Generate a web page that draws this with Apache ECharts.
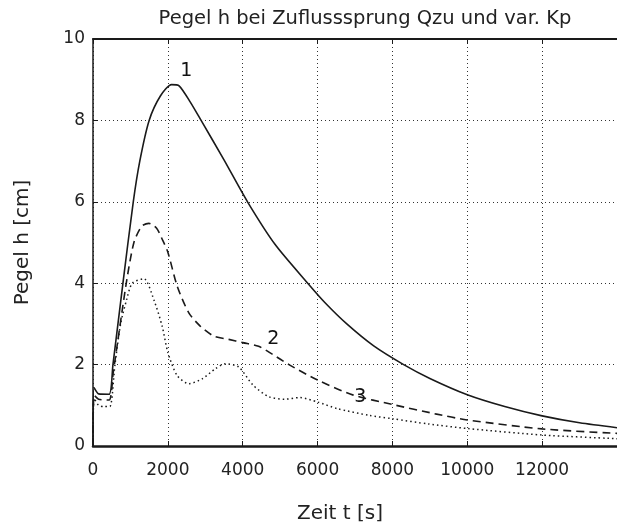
<!DOCTYPE html>
<html>
<head>
<meta charset="utf-8">
<script src="https://cdn.jsdelivr.net/npm/echarts@6/dist/echarts.min.js"></script>
<style>
html,body{margin:0;padding:0;background:#fff;}
#chart{width:617px;height:529px;}
</style>
</head>
<body>
<div id="chart"></div>
<script>
// Kurve 1
var t1 = [0, 30, 150, 430, 533, 800, 1076, 1250, 1500, 1800, 2100, 2300, 2600, 2900, 3500, 4128, 4867, 5737, 6200, 6781, 7500, 8300, 9000, 10000, 11000, 12000, 13000, 14000];
var h1 = [0, 1.43, 1.28, 1.27, 2.0, 4.0, 6.0, 7.0, 8.0, 8.6, 8.88, 8.85, 8.45, 7.98, 7.03, 6.0, 4.95, 4.0, 3.52, 3.0, 2.46, 2.0, 1.66, 1.26, 0.97, 0.74, 0.57, 0.45];
// Kurve 2
var t2 = [0, 30, 150, 430, 540, 889, 1093, 1300, 1493, 1700, 1849, 2000, 2249, 2560, 2871, 3227, 3627, 4000, 4423, 4800, 5235, 6000, 6957, 8000, 9148, 10000, 12000, 14000];
var h2 = [0, 1.25, 1.15, 1.13, 1.8, 4.0, 5.0, 5.4, 5.47, 5.35, 5.08, 4.76, 3.93, 3.27, 2.94, 2.70, 2.62, 2.54, 2.45, 2.25, 2.0, 1.62, 1.25, 1.02, 0.79, 0.64, 0.42, 0.31];
// Kurve 3
var t3 = [0, 30, 150, 300, 450, 587, 738, 900, 1049, 1360, 1627, 1849, 2000, 2249, 2560, 2916, 3271, 3538, 3893, 4270, 4700, 5130, 5520, 6000, 6520, 7390, 8000, 8970, 10000, 12000, 14000];
var h3 = [0, 1.17, 1.0, 0.97, 0.97, 2.0, 3.0, 3.6, 4.0, 4.11, 3.59, 2.94, 2.30, 1.73, 1.53, 1.65, 1.90, 2.02, 1.94, 1.5, 1.21, 1.15, 1.19, 1.08, 0.92, 0.75, 0.67, 0.54, 0.43, 0.27, 0.18];
// Beschriftung der Kurven
var labelNames = ['1', '2', '3'];
var labelT = [2494, 4820, 7140];
var labelH = [9.2, 2.62, 1.21];

function zip(t, h){
	var out = [];
	for (var i = 0; i < t.length; i++) {
		out.push([t[i], h[i]]);
	}
	return out;
}

var labelData = [];
for (var i = 0; i < labelNames.length; i++) {
	labelData.push({name: labelNames[i], value: [labelT[i], labelH[i]]});
}

var fontName = 'DejaVu Sans';
var ink = '#1a1a1a';
var gridDots = {color: '#333', width: 1, type: [1, 3]};

var myChart = echarts.init(document.getElementById('chart'));
var option = {
	backgroundColor: '#fff',
	animation: false,
	title: {
		text: 'Pegel h bei Zuflusssprung Qzu und var. Kp',
		left: 360,
		textAlign: 'center',
		top: 4,
		textStyle: {fontFamily: fontName, fontSize: 19.5, fontWeight: 'normal', color: '#222'}
	},
	grid: {left: 93, right: -11, top: 39, bottom: 81},
	xAxis: [{
		type: 'value',
		min: 0,
		max: 14000,
		interval: 2000,
		name: 'Zeit t [s]',
		nameLocation: 'middle',
		nameGap: 58,
		nameTextStyle: {fontFamily: fontName, fontSize: 20, color: '#222', padding: [0, 30, 0, 0]},
		axisLine: {lineStyle: {color: ink, width: 2.5}},
		axisTick: {inside: true, length: 5, lineStyle: {color: ink}},
		axisLabel: {
			fontFamily: fontName, fontSize: 17, color: '#222', margin: 16, showMaxLabel: false,
			formatter: function (v) { return String(v); }
		},
		splitLine: {show: true, lineStyle: gridDots}
	}, {
		type: 'value',
		position: 'top',
		min: 0,
		max: 14000,
		interval: 2000,
		axisLine: {show: true, lineStyle: {color: ink, width: 2}},
		axisTick: {inside: true, length: 5, lineStyle: {color: ink}},
		axisLabel: {show: false},
		splitLine: {show: false}
	}],
	yAxis: {
		type: 'value',
		min: 0,
		max: 10,
		interval: 2,
		name: 'Pegel h [cm]',
		nameLocation: 'middle',
		nameGap: 60,
		nameTextStyle: {fontFamily: fontName, fontSize: 20, color: '#222'},
		axisLine: {show: true, lineStyle: {color: ink, width: 1.5}},
		axisTick: {show: true, inside: true, length: 5, lineStyle: {color: ink}},
		axisLabel: {fontFamily: fontName, fontSize: 17, color: '#222', margin: 8},
		splitLine: {show: true, lineStyle: gridDots}
	},
	series: [{
		type: 'line',
		data: zip(t1, h1),
		showSymbol: false,
		smooth: 0.25,
		lineStyle: {color: ink, width: 1.6}
	}, {
		type: 'line',
		data: zip(t2, h2),
		showSymbol: false,
		smooth: 0.25,
		lineStyle: {color: ink, width: 1.6, type: [8, 5]}
	}, {
		type: 'line',
		data: zip(t3, h3),
		showSymbol: false,
		smooth: 0.25,
		lineStyle: {color: ink, width: 1.5, type: [1.5, 3]}
	}, {
		type: 'scatter',
		data: labelData,
		symbolSize: 0,
		itemStyle: {opacity: 1},
		label: {
			show: true,
			position: 'inside',
			formatter: '{b}',
			fontFamily: fontName,
			fontSize: 19,
			color: '#111'
		}
	}]
};
myChart.setOption(option);
</script>
</body>
</html>
